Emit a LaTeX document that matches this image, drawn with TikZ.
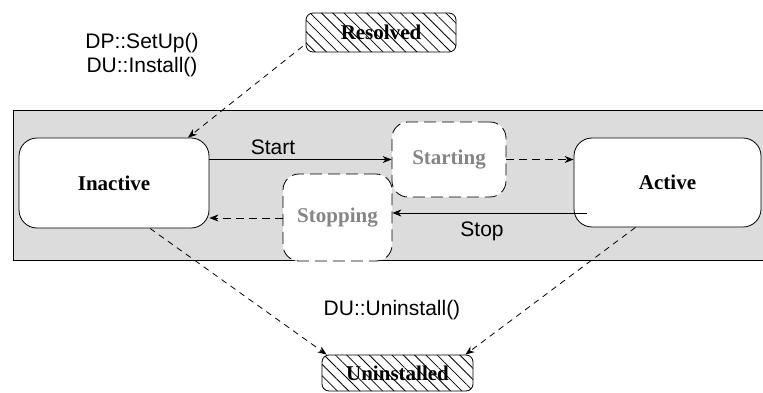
\documentclass[tikz,border=0pt]{standalone}
\usepackage{fontspec}
\setmainfont{Liberation Serif}
\setsansfont{Liberation Sans}
\usetikzlibrary{patterns.meta,arrows.meta}
\definecolor{bggray}{HTML}{DCDCDC}
\definecolor{txtgray}{HTML}{858585}
\begin{document}
\begin{tikzpicture}[x=1pt,y=-1pt,
  state/.style={draw=black, fill=white, rounded corners=18pt, line width=0.8pt,
    font=\fontsize{21}{24}\selectfont\bfseries, inner sep=0pt},
  transient/.style={draw=black, fill=white, rounded corners=16pt, line width=0.8pt,
    dash pattern=on 12pt off 6pt, text=txtgray,
    font=\fontsize{21}{24}\selectfont\bfseries, inner sep=0pt},
  term/.style={draw=black, rounded corners=7pt, line width=0.8pt,
    pattern={Lines[angle=-45,distance=8pt,line width=0.8pt]},
    font=\fontsize{21}{24}\selectfont\bfseries, inner sep=0pt},
  lbl/.style={font=\sffamily\fontsize{21}{24}\selectfont, inner sep=0pt, align=center},
  arr/.style={-{Stealth[length=9pt,width=7pt]}, line width=0.8pt},
  darr/.style={arr, dash pattern=on 8pt off 5pt},
  farr/.style={arr, dash pattern=on 6pt off 5pt}
]
\useasboundingbox (0,0) rectangle (763,393);
\clip (0,0) rectangle (763,393);
\fill[bggray] (13,110) rectangle (780,260);
\draw[line width=0.9pt] (780,110) -- (13,110) -- (13,260) -- (780,260);

\node[state, minimum width=190pt, minimum height=90pt] (inactive) at (114,183) {Inactive};
\node[state, minimum width=187pt, minimum height=89pt] (active) at (667.5,182.5) {Active};
\node[transient, minimum width=114pt, minimum height=75pt] (starting) at (449,159.5) {Starting};
\node[transient, minimum width=109pt, minimum height=87pt] (stopping) at (337.5,217.5) {Stopping};
\node[term, minimum width=150pt, minimum height=39pt] (resolved) at (381,32.5) {Resolved};
\node[term, minimum width=151pt, minimum height=36pt] (uninstalled) at (397.5,373) {Uninstalled};

\node[lbl] (setup) at (142,55) {DP::SetUp()\\DU::Install()};
\node[lbl] (startlbl) at (273,147) {Start};
\node[lbl] (stoplbl) at (482,231) {Stop};
\node[lbl] (uninstlbl) at (392,310) {DU::Uninstall()};

\draw[arr] (inactive.east |- starting.west) -- (starting.west);
\draw[darr] (starting.east) -- (active.west |- starting.east);
\draw[arr] ([xshift=13pt]active.west |- 0,213) -- (stopping.east |- 0,213);
\draw[darr] (stopping.west |- 0,218) -- (inactive.east |- 0,218);
\draw[farr] ([xshift=-3pt,yshift=6pt]resolved.south west) -- ([xshift=74pt]inactive.north);
\draw[farr] ([xshift=36pt]inactive.south) -- ([xshift=5pt]uninstalled.north west);
\draw[farr] ([xshift=-32pt]active.south) -- ([xshift=-8pt]uninstalled.north east);
\end{tikzpicture}
\end{document}
